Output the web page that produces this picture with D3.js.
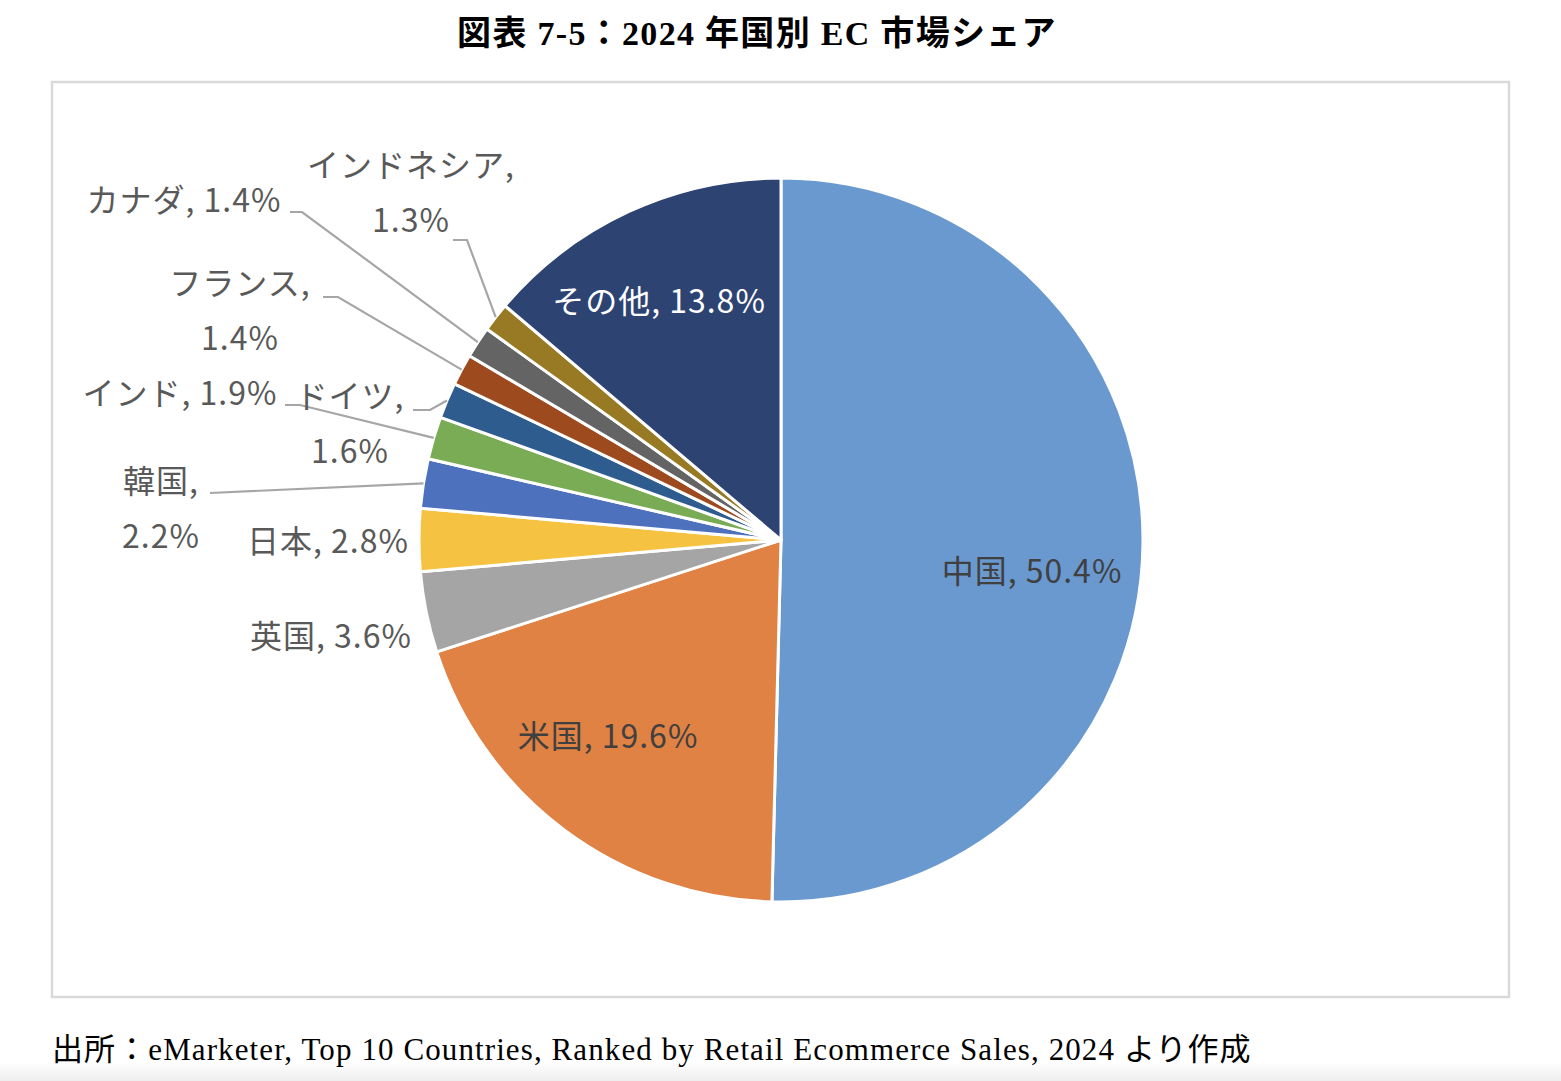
<!DOCTYPE html>
<html lang="ja">

<head>
  <meta charset="UTF-8">
  <script src="https://d3js.org/d3.v7.min.js"></script>
  <style>
    body {
      margin: 0;
      background: #fff;
    }

    svg {
      display: block;
    }

    .title {
      font-family: "Liberation Serif", "DejaVu Serif", "Noto Sans CJK JP", serif;
      font-weight: bold;
      font-size: 34px;
      letter-spacing: 1.3px;
      fill: #000;
    }

    .source {
      font-family: "Liberation Serif", "DejaVu Serif", "Noto Sans CJK JP", serif;
      font-size: 31px;
      letter-spacing: 1.1px;
      fill: #000;
    }

    .label {
      font-family: "Noto Sans CJK JP", "Noto Sans", sans-serif;
      font-size: 32px;
      letter-spacing: 1px;
    }

    .leader {
      fill: none;
      stroke: #a6a6a6;
      stroke-width: 2.2px;
    }
  </style>
</head>

<body>
  <div id="chart"></div>

  <script>
    // data
    const countries = ['中国', '米国', '英国', '日本', '韓国', 'インド', 'ドイツ', 'フランス', 'カナダ', 'インドネシア', 'その他'];
    const shares = [50.4, 19.6, 3.6, 2.8, 2.2, 1.9, 1.6, 1.4, 1.4, 1.3, 13.8];
    const colors = ['#6a99d0', '#e08244', '#a5a5a5', '#f5c242', '#4e71be', '#7aab55',
      '#2f5c8f', '#9d4a1f', '#646464', '#997a24', '#2d4372'];

    const titleText = '図表 7-5：2024 年国別 EC 市場シェア';
    const sourceText = '出所：eMarketer, Top 10 Countries, Ranked by Retail Ecommerce Sales, 2024 より作成';

    // label layout (text centre, optional leader start + elbow)
    const labelLayout = {
      '中国': { x: 1032, y: 571, inside: true },
      '米国': { x: 608, y: 736, inside: true },
      'その他': { x: 659, y: 301, inside: true, light: true },
      '英国': { x: 331, y: 636 },
      '日本': { x: 328, y: 541 },
      '韓国': { x: 161, y: 481, wrap: true, leader: [[210, 493]] },
      'インド': { x: 180, y: 393, leader: [[285, 405], [300, 405]] },
      'ドイツ': { x: 350, y: 396, wrap: true, leader: [[413, 410], [430, 410]] },
      'フランス': { x: 240, y: 283, wrap: true, leader: [[323, 297], [338, 297]] },
      'カナダ': { x: 184, y: 200, leader: [[290, 212], [302, 212]] },
      'インドネシア': { x: 411, y: 165, wrap: true, leader: [[453, 240], [467, 240]] }
    };

    const width = 1561, height = 1081;
    const cx = 781, cy = 540, radius = 362;

    const svg = d3.select('#chart').append('svg')
      .attr('width', width)
      .attr('height', height);

    // soft grey band at the very bottom
    const grad = svg.append('defs').append('linearGradient')
      .attr('id', 'band').attr('x1', 0).attr('x2', 0).attr('y1', 0).attr('y2', 1);
    grad.append('stop').attr('offset', '0%').attr('stop-color', '#fff');
    grad.append('stop').attr('offset', '100%').attr('stop-color', '#eeeeee');
    svg.append('rect').attr('x', 0).attr('y', 1062).attr('width', width).attr('height', 19)
      .attr('fill', 'url(#band)');

    svg.append('text')
      .attr('class', 'title')
      .attr('x', 757)
      .attr('y', 45)
      .attr('text-anchor', 'middle')
      .text(titleText);

    // chart frame
    svg.append('rect')
      .attr('x', 52).attr('y', 82)
      .attr('width', 1457).attr('height', 915)
      .attr('fill', '#fff')
      .attr('stroke', '#d9d9d9')
      .attr('stroke-width', 2.5);

    svg.append('text')
      .attr('class', 'source')
      .attr('x', 52)
      .attr('y', 1060)
      .text(sourceText);

    const data = countries.map((c, i) => ({ name: c, value: shares[i], color: colors[i] }));

    const pie = d3.pie().sort(null).value(d => d.value);
    const arc = d3.arc().innerRadius(0).outerRadius(radius);
    const edgeArc = d3.arc().innerRadius(radius).outerRadius(radius);

    const g = svg.append('g').attr('transform', `translate(${cx},${cy})`);
    const arcs = pie(data);

    g.selectAll('path.slice')
      .data(arcs)
      .enter().append('path')
      .attr('class', 'slice')
      .attr('d', arc)
      .attr('fill', d => d.data.color)
      .attr('stroke', '#fff')
      .attr('stroke-width', 3)
      .attr('stroke-linejoin', 'round');

    // leader lines
    const line = d3.line();
    svg.selectAll('path.leader')
      .data(arcs.filter(d => labelLayout[d.data.name].leader))
      .enter().append('path')
      .attr('class', 'leader')
      .attr('d', d => {
        const c = edgeArc.centroid(d);
        const pts = labelLayout[d.data.name].leader.concat([[cx + c[0], cy + c[1]]]);
        return line(pts);
      });

    // labels
    const labels = svg.selectAll('text.label')
      .data(arcs)
      .enter().append('text')
      .attr('class', 'label')
      .attr('text-anchor', 'middle')
      .attr('fill', d => {
        const l = labelLayout[d.data.name];
        return l.light ? '#ffffff' : (l.inside ? '#404040' : '#595959');
      });

    labels.each(function (d) {
      const l = labelLayout[d.data.name];
      const pct = d.data.value.toFixed(1) + '%';
      const lines = l.wrap ? [d.data.name + ',', pct] : [d.data.name + ', ' + pct];
      d3.select(this).selectAll('tspan')
        .data(lines)
        .enter().append('tspan')
        .attr('x', l.x)
        .attr('y', (t, i) => l.y + i * 55)
        .attr('dy', '0.36em')
        .text(t => t);
    });
  </script>

</body>

</html>
